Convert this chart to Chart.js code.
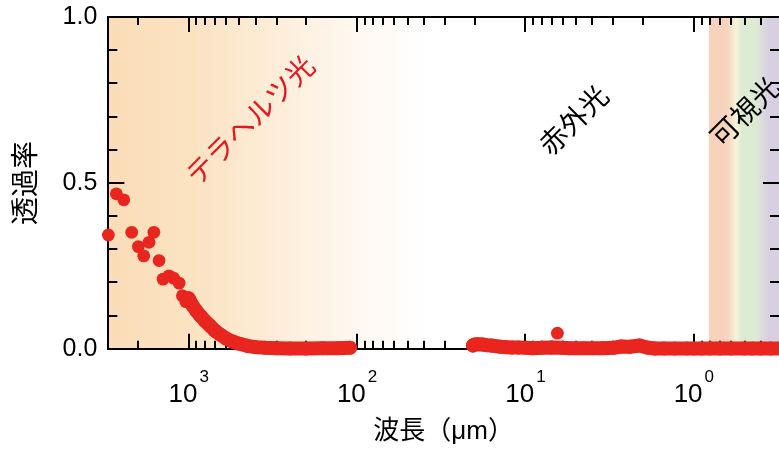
<!DOCTYPE html>
<html>
<head>
<meta charset="utf-8">
<script src="https://cdn.jsdelivr.net/npm/chart.js@4.4.0/dist/chart.umd.min.js"></script>
<style>
html, body { margin: 0; padding: 0; background: #fff; }
</style>
</head>
<body>
<canvas id="chart" width="779" height="450"></canvas>
<script>
// scattered measurement points (wavelength in um, transmittance)
const dotWl = [3000, 2690, 2430, 2180, 1990, 1850, 1720, 1610, 1500, 1420, 1310, 1230, 1140, 1090, 1040, 6.46];
const dotT  = [0.343, 0.467, 0.449, 0.351, 0.308, 0.280, 0.321, 0.351, 0.266, 0.210, 0.220, 0.213, 0.198, 0.160, 0.142, 0.047];

// dense terahertz curve
const thzWl = [1000, 950, 900, 850, 800, 750, 700, 650, 600, 550, 500, 450, 400, 350, 300, 250, 200, 160, 130, 110];
const thzT  = [0.152, 0.131, 0.114, 0.099, 0.084, 0.070, 0.055, 0.043, 0.031, 0.022, 0.015, 0.009, 0.005, 0.003, 0.002, 0.001, 0.001, 0.002, 0.002, 0.003];

// dense infrared / visible curve
const irWl = [20.5, 20, 19, 18, 17, 16, 15, 14, 13, 12, 11, 10, 9, 8, 7, 6, 5.5, 5, 4.5, 4, 3.5, 3, 2.7, 2.4, 2.1, 1.9, 1.7, 1.5, 1.3, 1.1, 1.0, 0.9, 0.8, 0.7, 0.6, 0.5, 0.45, 0.4, 0.35, 0.3];
const irT  = [0.010, 0.013, 0.014, 0.013, 0.011, 0.010, 0.008, 0.006, 0.005, 0.004, 0.004, 0.003, 0.002, 0.003, 0.004, 0.003, 0.002, 0.002, 0.002, 0.002, 0.002, 0.003, 0.007, 0.006, 0.010, 0.004, 0.001, 0.001, 0.001, 0.001, 0.001, 0.001, 0.001, 0.001, 0.001, 0.001, 0.001, 0.001, 0.001, 0.001];

// axes
const xMin = 0.312, xMax = 3000;
const xTickValues = [1000, 100, 10, 1];
const xTickExps = ['3', '2', '1', '0'];
const yTickValues = [0, 0.5, 1];

// region labels
const regionNames = ['テラヘルツ光', '赤外光', '可視光'];
const regionWl = [433, 5.2, 0.5];
const regionT = [0.69, 0.69, 0.715];
const regionColors = ['#E8141E', '#000000', '#000000'];

// shaded bands
const thzBand = [3000, 39];
const thzColors = ['rgb(250,221,183)', 'rgb(251,226,193)', 'rgb(253,236,214)', 'rgb(254,247,238)', 'rgb(255,255,255)'];
const visStopsWl = [0.814, 0.63, 0.56, 0.52, 0.43, 0.36, 0.28];
const visColors = ['rgb(247,209,188)', 'rgb(247,212,190)', 'rgb(247,245,218)', 'rgb(222,235,210)', 'rgb(222,235,212)', 'rgb(216,208,226)', 'rgb(216,208,226)'];

const RED = '#E8251E';
const pts = (xs, ys) => xs.map((v, i) => ({x: v, y: ys[i]}));

const bands = {
  id: 'bands',
  beforeDraw(chart) {
    const {ctx, chartArea: a, scales: {x}} = chart;
    ctx.save();
    const x0 = x.getPixelForValue(thzBand[0]), x1 = x.getPixelForValue(thzBand[1]);
    let g = ctx.createLinearGradient(x0, 0, x1, 0);
    thzColors.forEach((c, i) => g.addColorStop(i / (thzColors.length - 1), c));
    ctx.fillStyle = g;
    ctx.fillRect(x0, a.top, x1 - x0, a.bottom - a.top);

    const v0 = x.getPixelForValue(visStopsWl[0]);
    const v1 = x.getPixelForValue(visStopsWl[visStopsWl.length - 1]);
    g = ctx.createLinearGradient(v0, 0, v1, 0);
    visStopsWl.forEach((w, i) => g.addColorStop((x.getPixelForValue(w) - v0) / (v1 - v0), visColors[i]));
    ctx.fillStyle = g;
    ctx.fillRect(v0, a.top, v1 - v0, a.bottom - a.top);
    ctx.restore();
  }
};

const frame = {
  id: 'frame',
  beforeDatasetsDraw(chart) {
    const {ctx, chartArea: a, scales: {x, y}} = chart;
    ctx.save();
    ctx.strokeStyle = '#000';
    ctx.lineWidth = 2;
    ctx.beginPath();
    ctx.moveTo(a.left - 1, a.top);
    ctx.lineTo(a.right, a.top);
    ctx.stroke();

    // inward log ticks, top and bottom
    for (let p = -1; p <= 3; p++) {
      for (let m = 1; m <= 9; m++) {
        const v = m * Math.pow(10, p);
        if (v < x.min || v > x.max) continue;
        const px = Math.round(x.getPixelForValue(v));
        const len = m === 1 ? 15 : 8;
        ctx.beginPath();
        ctx.moveTo(px, a.bottom); ctx.lineTo(px, a.bottom - len);
        ctx.moveTo(px, a.top); ctx.lineTo(px, a.top + len);
        ctx.stroke();
      }
    }
    // inward y ticks, left and right
    for (let i = 0; i <= 10; i++) {
      const py = Math.round(y.getPixelForValue(i / 10));
      const len = i % 5 === 0 ? 16 : 9;
      ctx.beginPath();
      ctx.moveTo(a.left, py); ctx.lineTo(a.left + len, py);
      ctx.moveTo(a.right, py); ctx.lineTo(a.right - len, py);
      ctx.stroke();
    }

    // x tick labels 10^n
    ctx.fillStyle = '#000';
    ctx.textBaseline = 'alphabetic';
    ctx.textAlign = 'left';
    xTickValues.forEach((v, i) => {
      const px = x.getPixelForValue(v);
      ctx.font = "26px 'Liberation Sans'";
      const w1 = ctx.measureText('10').width;
      ctx.font = "17px 'Liberation Sans'";
      const w2 = ctx.measureText(xTickExps[i]).width;
      const sx = px - (w1 + w2 + 2) / 2;
      ctx.font = "26px 'Liberation Sans'";
      ctx.fillText('10', sx, a.bottom + 53);
      ctx.font = "17px 'Liberation Sans'";
      ctx.fillText(xTickExps[i], sx + w1 + 2, a.bottom + 33);
    });

    // region names
    ctx.font = "28px 'Noto Sans CJK JP'";
    ctx.textAlign = 'center';
    ctx.textBaseline = 'middle';
    regionNames.forEach((t, i) => {
      ctx.save();
      ctx.translate(x.getPixelForValue(regionWl[i]), y.getPixelForValue(regionT[i]));
      ctx.rotate(-Math.PI / 4);
      ctx.fillStyle = regionColors[i];
      ctx.fillText(t, 0, 0);
      ctx.restore();
    });
    ctx.restore();
  }
};

new Chart(document.getElementById('chart'), {
  type: 'scatter',
  data: {
    datasets: [
      {data: pts(thzWl, thzT), showLine: true, borderColor: RED, borderWidth: 14,
       borderCapStyle: 'round', borderJoinStyle: 'round', pointRadius: 7,
       pointBackgroundColor: RED, pointBorderWidth: 0, clip: false},
      {data: pts(irWl, irT), showLine: true, borderColor: RED, borderWidth: 14,
       borderCapStyle: 'round', borderJoinStyle: 'round', pointRadius: 7,
       pointBackgroundColor: RED, pointBorderWidth: 0, clip: false},
      {data: pts(dotWl, dotT), showLine: false, pointRadius: 6.4,
       pointBackgroundColor: RED, pointBorderWidth: 0, clip: false}
    ]
  },
  options: {
    responsive: false,
    animation: false,
    layout: {autoPadding: false, padding: {top: 17, left: 0, right: 0, bottom: 0}},
    plugins: {legend: {display: false}, tooltip: {enabled: false}},
    scales: {
      x: {
        type: 'logarithmic',
        reverse: true,
        bounds: 'data',
        min: xMin,
        max: xMax,
        grid: {display: false, drawTicks: false},
        border: {display: true, color: '#000', width: 2},
        ticks: {display: false},
        title: {display: true, text: '波長（μm）', color: '#000',
                font: {family: "'Liberation Sans', 'Noto Sans CJK JP'", size: 26},
                padding: {top: 67, bottom: 3}}
      },
      y: {
        min: 0,
        max: 1,
        afterBuildTicks: s => { s.ticks = yTickValues.map(v => ({value: v})); },
        afterFit: s => { s.paddingTop = 0; s.paddingBottom = 0; },
        grid: {display: false, drawTicks: false},
        border: {display: true, color: '#000', width: 2},
        ticks: {color: '#000', padding: 11, font: {family: "'Liberation Sans'", size: 25},
                callback: v => v.toFixed(1)},
        title: {display: true, text: '透過率', color: '#000',
                font: {family: "'Noto Sans CJK JP'", size: 28},
                padding: {top: 8, bottom: 10}}
      }
    }
  },
  plugins: [bands, frame]
});
</script>
</body>
</html>
